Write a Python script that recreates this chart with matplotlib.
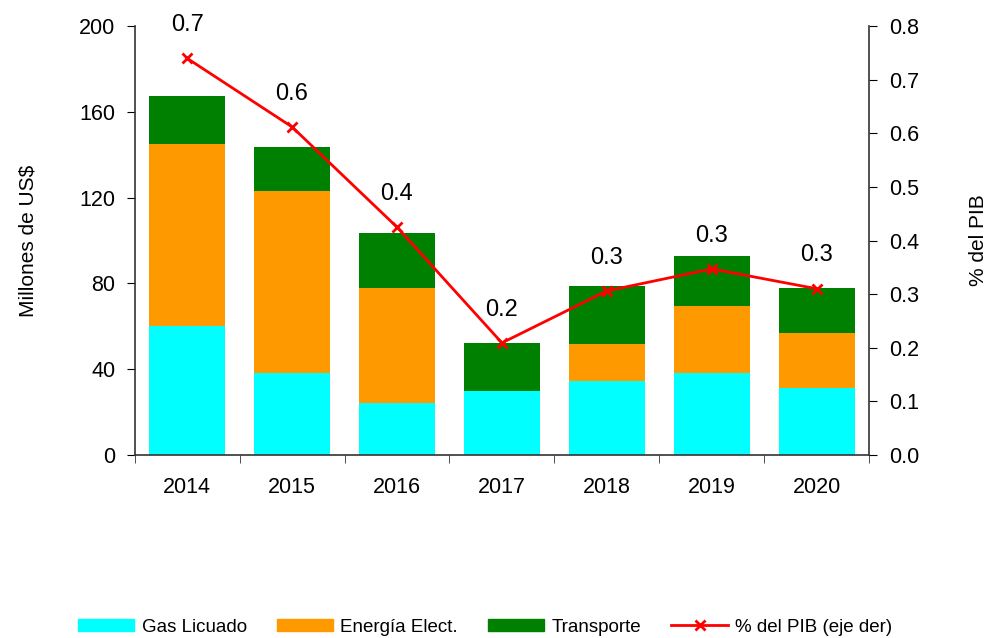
import numpy as np
import matplotlib.pyplot as plt
from matplotlib.lines import Line2D
from matplotlib.patches import Patch

plt.rcParams['font.family'] = ['Liberation Sans', 'DejaVu Sans']

# --- data ---
years = ["2014", "2015", "2016", "2017", "2018", "2019", "2020"]
gas_licuado = [60, 38, 24, 30, 34.5, 38, 31]
energia_elect = [85, 85, 54, 0, 17, 31.5, 26]
transporte = [22.5, 20.5, 25.5, 22, 27.5, 23.5, 21]
pct_pib = [0.74, 0.612, 0.425, 0.209, 0.306, 0.347, 0.31]
pct_labels = ["0.7", "0.6", "0.4", "0.2", "0.3", "0.3", "0.3"]

c_gas = "#00FFFF"
c_ene = "#FF9900"
c_tra = "#008000"
c_line = "#FF0000"

fig = plt.figure(figsize=(9.9, 6.38), dpi=100)
ax = fig.add_axes([0.136, 0.287, 0.742, 0.672])

x = np.arange(len(years))
gas = np.array(gas_licuado)
ene = np.array(energia_elect)
tra = np.array(transporte)

w = 0.72
ax.bar(x, gas, w, color=c_gas)
ax.bar(x, ene, w, bottom=gas, color=c_ene)
ax.bar(x, tra, w, bottom=gas + ene, color=c_tra)

ax.set_xlim(-0.5, len(years) - 0.5)
ax.set_ylim(0, 200)
ax.set_yticks(np.arange(0, 201, 40))
ax.set_xticks(x)
ax.set_xticklabels(years)
ax.set_xticks(np.arange(-0.5, len(years), 1.0), minor=True)
ax.tick_params(axis="x", which="major", length=0, labelsize=15.5, pad=16)
ax.tick_params(axis="x", which="minor", length=6, direction="out", color="#333333")
ax.tick_params(axis="y", labelsize=15.5, length=6, direction="out", pad=8)
ax.set_ylabel("Millones de US$", fontsize=15, labelpad=30)
ax.spines["top"].set_visible(False)
ax.spines["right"].set_visible(False)
for s in ("left", "bottom"):
    ax.spines[s].set_linewidth(1.2)
    ax.spines[s].set_color("#333333")

ax2 = ax.twinx()
ax2.plot(x, pct_pib, color=c_line, marker="x", markersize=7, markeredgewidth=2,
         linewidth=2)
ax2.set_ylim(0, 0.8)
ax2.set_yticks(np.arange(0, 0.81, 0.1))
ax2.set_yticklabels([f"{v:.1f}" for v in np.arange(0, 0.81, 0.1)])
ax2.tick_params(axis="y", labelsize=15.5, length=6, direction="out", pad=8)
ax2.set_ylabel("% del PIB", fontsize=15, labelpad=36, rotation=90)
ax2.spines["top"].set_visible(False)
ax2.spines["left"].set_visible(False)
ax2.spines["bottom"].set_visible(False)
ax2.spines["right"].set_linewidth(1.2)
ax2.spines["right"].set_color("#333333")

for xi, yi, lab in zip(x, pct_pib, pct_labels):
    ax2.annotate(lab, (xi, yi), xytext=(0, 24), textcoords="offset points",
                 ha="center", va="center", fontsize=17)

handles = [
    Patch(color=c_gas, label="Gas Licuado"),
    Patch(color=c_ene, label="Energía Elect."),
    Patch(color=c_tra, label="Transporte"),
    Line2D([0], [0], color=c_line, marker="x", markersize=7, markeredgewidth=2,
           linewidth=2, label="% del PIB (eje der)"),
]
fig.legend(handles=handles, loc="center", bbox_to_anchor=(0.49, 0.017), ncol=4,
           frameon=False, fontsize=13.5, handlelength=3.0, handleheight=0.6,
           columnspacing=1.6, handletextpad=0.4)

fig.savefig("out.png", dpi=100)
